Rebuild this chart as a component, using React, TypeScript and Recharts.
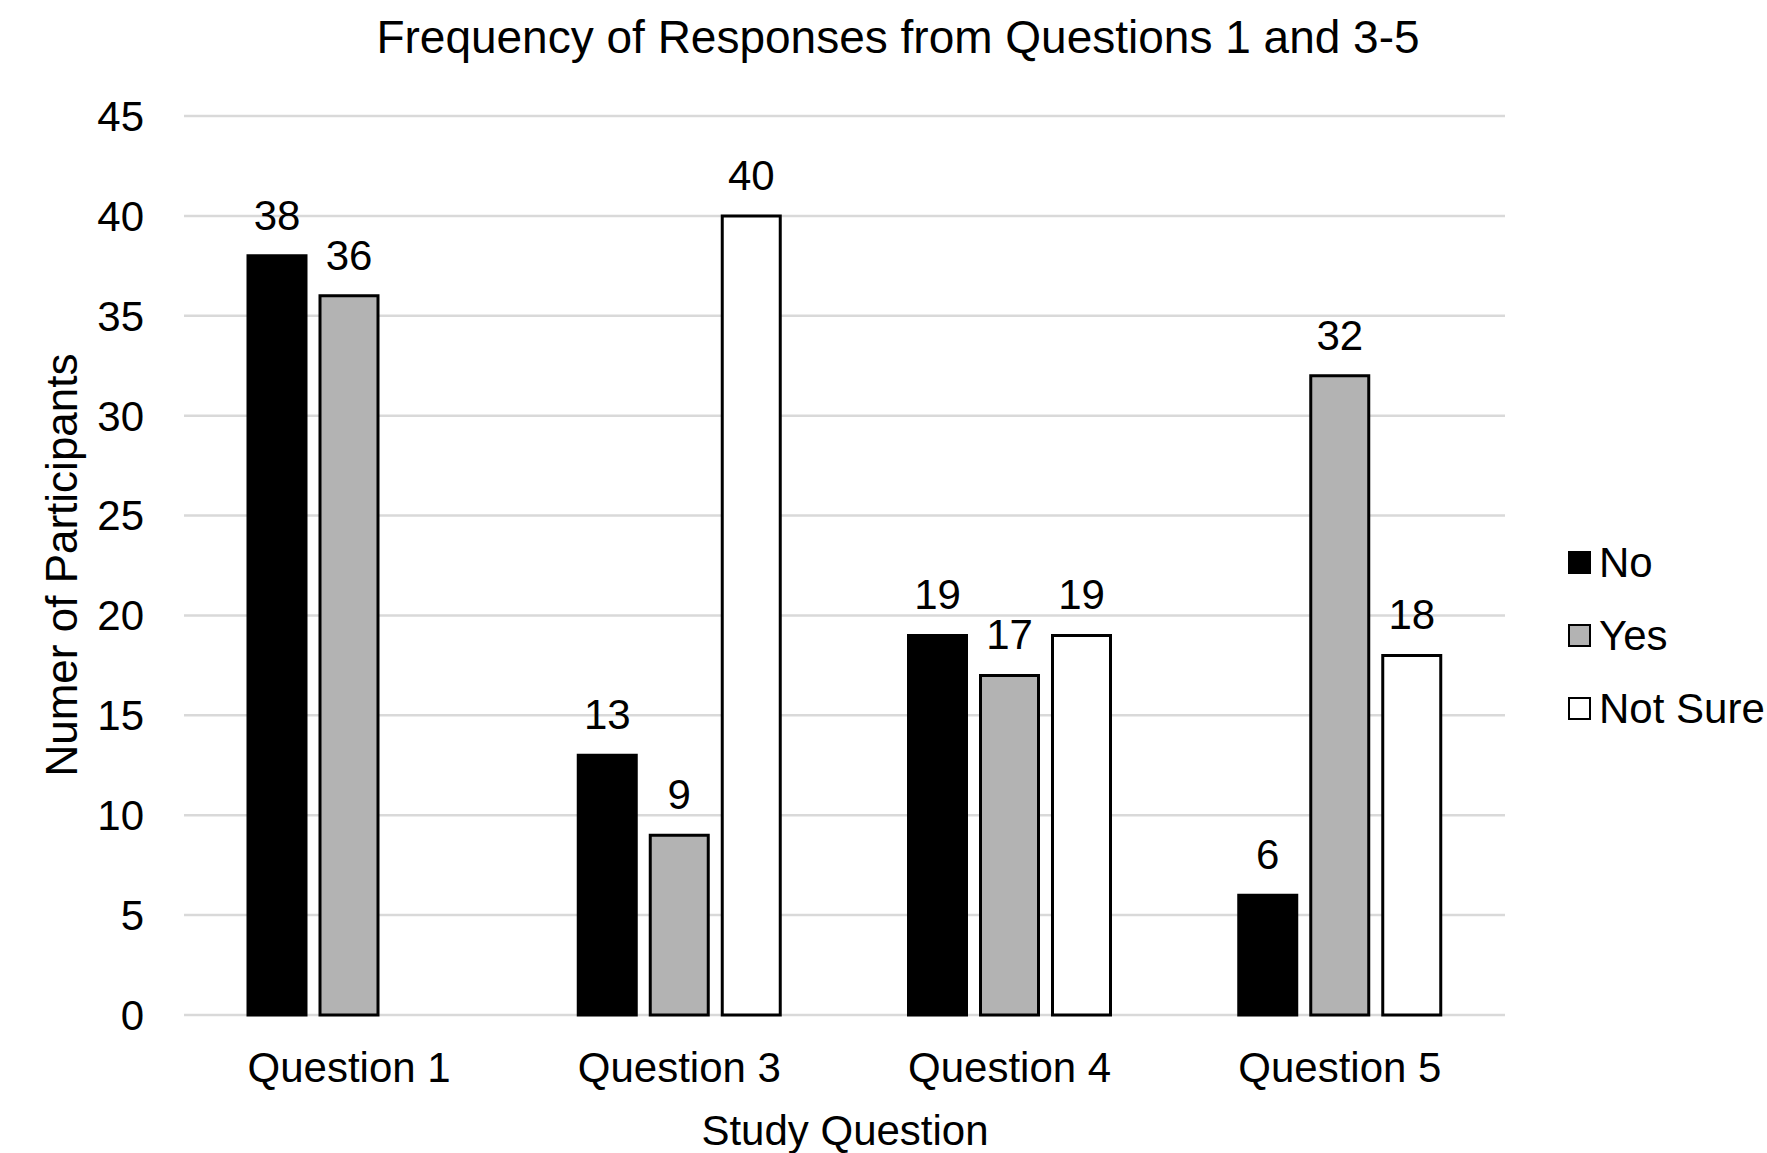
import { BarChart, Bar, XAxis, YAxis, CartesianGrid, LabelList } from 'recharts'

const categories = ['Question 1', 'Question 3', 'Question 4', 'Question 5']
const noValues = [38, 13, 19, 6]
const yesValues = [36, 9, 17, 32]
const notSureValues: (number | null)[] = [null, 40, 19, 18]
const yTicks = [0, 5, 10, 15, 20, 25, 30, 35, 40, 45]

const series = [
  { key: 'no', name: 'No', fill: '#000000' },
  { key: 'yes', name: 'Yes', fill: '#b3b3b3' },
  { key: 'notSure', name: 'Not Sure', fill: '#ffffff' },
]

const data = categories.map((c, i) => ({
  question: c,
  no: noValues[i],
  yes: yesValues[i],
  notSure: notSureValues[i],
}))

const FONT = '"Liberation Sans", Arial, sans-serif'
const FS = 42

function LegendBox() {
  return (
    <div style={{ position: 'absolute', left: 1568, top: 526, fontFamily: FONT, fontSize: FS, color: '#000' }}>
      {series.map((s) => (
        <div key={s.key} style={{ display: 'flex', alignItems: 'center', height: 73 }}>
          <span
            style={{
              display: 'inline-block',
              width: 19,
              height: 19,
              background: s.fill,
              border: '2px solid #000',
              marginRight: 8,
            }}
          />
          <span>{s.name}</span>
        </div>
      ))}
    </div>
  )
}

export default function App() {
  return (
    <div style={{ position: 'absolute', left: 0, top: 0, width: 1767, height: 1153, background: '#fff', overflow: 'hidden' }}>
      <div
        style={{
          position: 'absolute',
          left: 0,
          width: 1796,
          top: 10,
          textAlign: 'center',
          fontFamily: FONT,
          fontSize: 46,
          color: '#000',
        }}
      >
        Frequency of Responses from Questions 1 and 3-5
      </div>
      <BarChart
        width={1767}
        height={1153}
        data={data}
        margin={{ top: 116, right: 262, left: 0, bottom: 0 }}
        barCategoryGap={64}
        barGap={14}
        style={{ fontFamily: FONT }}
      >
        <CartesianGrid vertical={false} stroke="#d9d9d9" strokeWidth={2.5} />
        <XAxis
          dataKey="question"
          height={138}
          axisLine={false}
          tickLine={false}
          tickSize={35}
          tickMargin={2}
          tick={{ fontSize: FS, fill: '#000' }}
          label={() => (
            <text x={845} y={1145} textAnchor="middle" fontSize={FS} fill="#000" fontFamily={FONT}>
              Study Question
            </text>
          )}
        />
        <YAxis
          domain={[0, 45]}
          ticks={yTicks}
          width={184}
          axisLine={false}
          tickLine={false}
          tickSize={38}
          tickMargin={2}
          interval={0}
          tick={{ fontSize: FS, fill: '#000' }}
          label={() => (
            <text
              x={77}
              y={565}
              textAnchor="middle"
              fontSize={44}
              fill="#000"
              fontFamily={FONT}
              transform="rotate(-90 77 565)"
            >
              Numer of Participants
            </text>
          )}
        />
        {series.map((s) => (
          <Bar
            key={s.key}
            dataKey={s.key}
            name={s.name}
            fill={s.fill}
            stroke="#000"
            strokeWidth={3}
            isAnimationActive={false}
          >
            <LabelList dataKey={s.key} position="top" offset={26} fontSize={FS} fill="#000" fontFamily={FONT} />
          </Bar>
        ))}
      </BarChart>
      <LegendBox />
    </div>
  )
}
